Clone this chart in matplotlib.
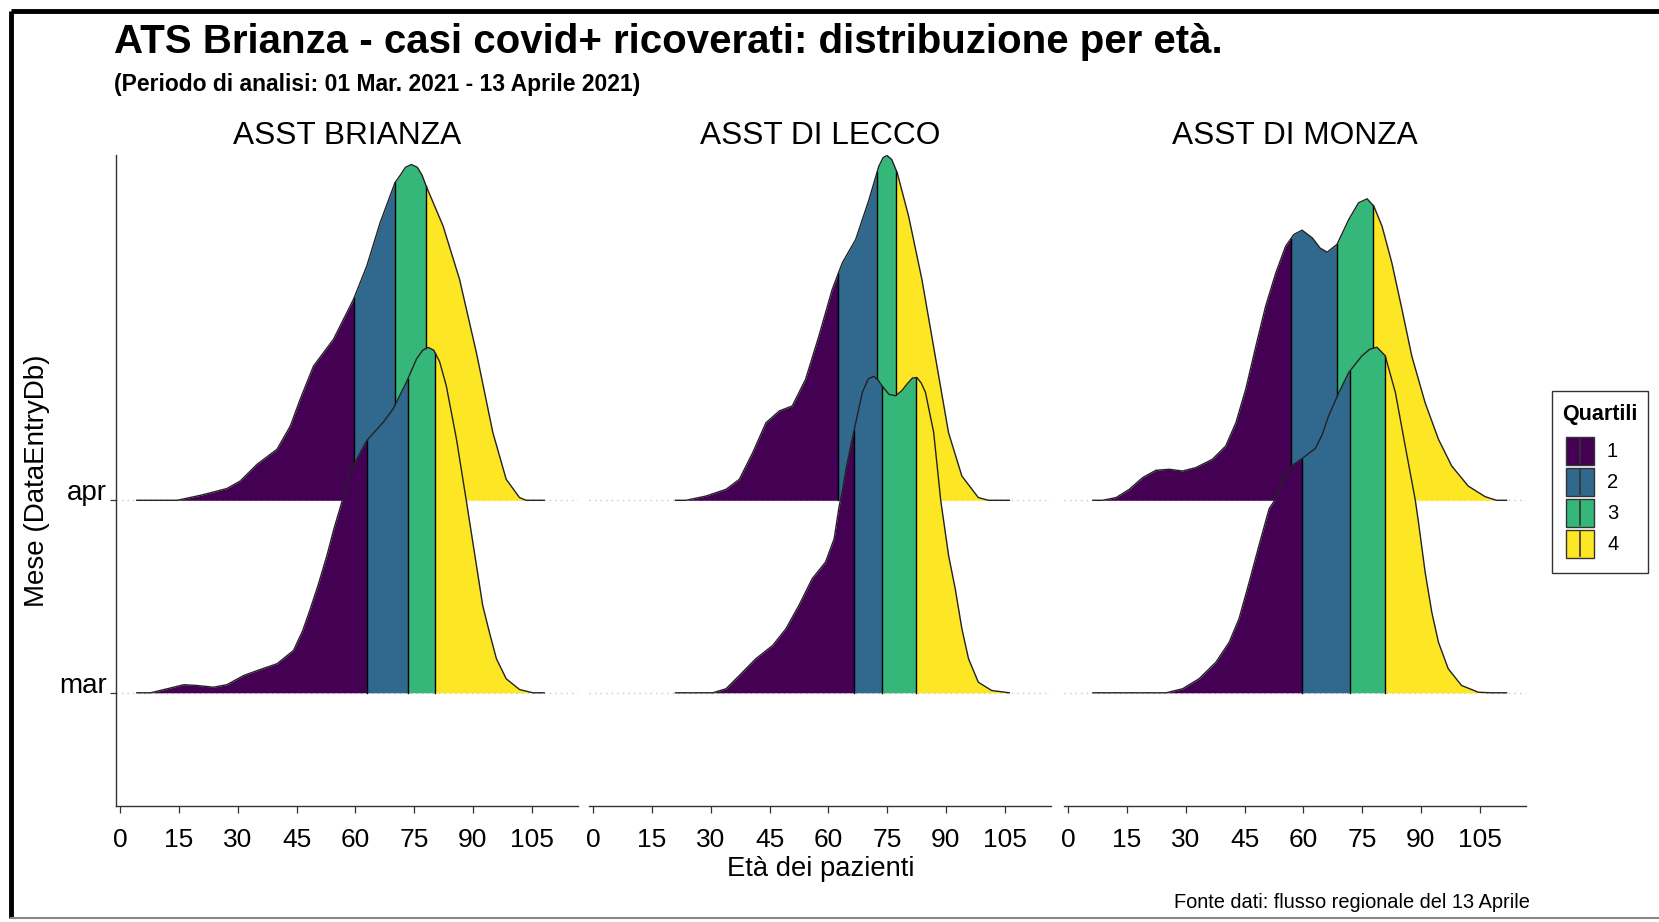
import numpy as np
import matplotlib
matplotlib.use("Agg")
import matplotlib.pyplot as plt
from matplotlib.patches import Rectangle

plt.rcParams['font.family'] = ['Liberation Sans', 'DejaVu Sans']

# ---- data (age, ridge height in row units) ----
panels = ["ASST BRIANZA", "ASST DI LECCO", "ASST DI MONZA"]
months = ["mar", "apr"]
quartile_labels = ["1", "2", "3", "4"]
quartile_colors = ["#440154", "#31688E", "#35B779", "#FDE725"]
x_ticks = [0, 15, 30, 45, 60, 75, 90, 105]

brianza_apr_age = [4.2, 14.5, 20.5, 27.2, 30.6, 34.9, 40.0, 43.4, 45.9, 49.3, 54.4, 59.5, 62.9, 66.3,
                   70.1, 71.5, 72.8, 74.3, 75.8, 77.0, 78.1, 82.4, 86.6, 90.9, 95.1, 98.5, 101.9, 103.6, 108.2]
brianza_apr_h = [0, 0, 0.026, 0.061, 0.10, 0.187, 0.265, 0.386, 0.524, 0.697, 0.836, 1.043, 1.216, 1.441,
                 1.649, 1.69, 1.73, 1.744, 1.73, 1.69, 1.631, 1.424, 1.147, 0.766, 0.351, 0.109, 0.014, 0, 0]
brianza_mar_age = [4.2, 7.7, 12.0, 16.2, 19.6, 23.8, 27.2, 31.5, 35.7, 40.0, 44.2, 46.5, 48.4, 50.5, 52.7,
                   54.5, 56.3, 58.6, 62.9, 67.1, 69.6, 73.0, 75.6, 77.2, 78.6, 80.0, 81.5, 83.2, 85.8,
                   88.3, 90.9, 92.5, 94.2, 96.0, 98.5, 101.9, 105.3, 108.2]
brianza_mar_h = [0, 0, 0.021, 0.042, 0.038, 0.029, 0.042, 0.09, 0.121, 0.151, 0.22, 0.32, 0.43, 0.56, 0.71,
                 0.85, 0.974, 1.147, 1.31, 1.405, 1.474, 1.612, 1.734, 1.78, 1.794, 1.78, 1.72, 1.595, 1.318,
                 1.0, 0.662, 0.454, 0.315, 0.177, 0.073, 0.017, 0, 0]

lecco_apr_age = [21.0, 23.7, 28.8, 33.9, 37.3, 40.7, 44.1, 47.5, 50.8, 54.2, 57.6, 61.0, 63.6, 67.0, 70.4,
                 72.9, 74.0, 75.0, 76.2, 77.6, 80.5, 83.9, 87.3, 90.7, 94.1, 98.3, 100.9, 106.2]
lecco_apr_h = [0, 0, 0.022, 0.057, 0.109, 0.247, 0.403, 0.464, 0.49, 0.628, 0.853, 1.095, 1.234, 1.355, 1.562,
               1.735, 1.78, 1.791, 1.77, 1.701, 1.476, 1.147, 0.749, 0.351, 0.126, 0.014, 0, 0]
lecco_mar_age = [21.0, 30.5, 33.9, 37.3, 41.5, 45.8, 49.2, 52.5, 55.9, 59.3, 61.5, 62.7, 63.6, 64.6, 66.1,
                 68.7, 70.2, 71.6, 72.7, 73.7, 75.5, 77.2, 78.8, 80.1, 81.5, 82.6, 83.7, 84.8, 86.9, 88.7,
                 90.7, 92.4, 94.1, 95.8, 98.3, 101.7, 106.2]
lecco_mar_h = [0, 0, 0.021, 0.09, 0.177, 0.246, 0.333, 0.454, 0.593, 0.679, 0.80, 0.96, 1.05, 1.17, 1.318,
               1.561, 1.63, 1.644, 1.625, 1.595, 1.55, 1.543, 1.57, 1.604, 1.635, 1.638, 1.61, 1.561, 1.353, 1.0,
               0.714, 0.541, 0.333, 0.177, 0.055, 0.012, 0]

monza_apr_age = [6.3, 8.8, 12.2, 15.6, 19.0, 22.4, 25.8, 29.2, 32.6, 36.8, 40.2, 42.8, 45.3, 47.9, 50.4,
                 53.0, 55.5, 57.6, 59.7, 62.3, 64.3, 66.1, 68.6, 71.6, 74.1, 76.3, 78.0, 80.1, 82.6, 85.2,
                 87.7, 91.1, 94.5, 97.9, 102.1, 106.4, 109.3, 111.9]
monza_apr_h = [0, 0, 0.014, 0.057, 0.118, 0.156, 0.161, 0.152, 0.170, 0.213, 0.282, 0.403, 0.576, 0.801, 1.009,
               1.182, 1.32, 1.381, 1.403, 1.363, 1.31, 1.289, 1.329, 1.458, 1.545, 1.566, 1.528, 1.424, 1.234,
               0.991, 0.749, 0.507, 0.317, 0.178, 0.074, 0.019, 0, 0]
monza_mar_age = [6.3, 25.0, 29.2, 33.4, 37.7, 41.1, 43.6, 46.2, 48.7, 51.3, 53.0, 54.6, 57.2, 59.7, 63.1,
                 64.8, 66.5, 69.1, 71.6, 75.0, 77.0, 78.8, 80.9, 83.5, 86.0, 88.6, 89.4, 91.1, 92.8, 94.5,
                 97.0, 100.4, 104.7, 108.0, 111.9]
monza_mar_h = [0, 0, 0.021, 0.073, 0.159, 0.263, 0.385, 0.575, 0.766, 0.957, 1.009, 1.113, 1.182, 1.217, 1.27,
               1.34, 1.44, 1.56, 1.664, 1.751, 1.785, 1.795, 1.751, 1.561, 1.284, 1.0, 0.887, 0.627, 0.419,
               0.263, 0.125, 0.038, 0.003, 0, 0]

# quartile cut points (Q1, median, Q3)
brianza_apr_q = [59.7, 70.2, 78.1]
brianza_mar_q = [62.9, 73.4, 80.4]
lecco_apr_q = [62.6, 72.5, 77.4]
lecco_mar_q = [66.6, 73.7, 82.4]
monza_apr_q = [56.8, 68.7, 77.8]
monza_mar_q = [59.6, 71.9, 80.9]

ridges = {
    "ASST BRIANZA": {"apr": (brianza_apr_age, brianza_apr_h, brianza_apr_q),
                     "mar": (brianza_mar_age, brianza_mar_h, brianza_mar_q)},
    "ASST DI LECCO": {"apr": (lecco_apr_age, lecco_apr_h, lecco_apr_q),
                      "mar": (lecco_mar_age, lecco_mar_h, lecco_mar_q)},
    "ASST DI MONZA": {"apr": (monza_apr_age, monza_apr_h, monza_apr_q),
                      "mar": (monza_mar_age, monza_mar_h, monza_mar_q)},
}

W, H = 1659, 922
fig = plt.figure(figsize=(W / 100, H / 100), dpi=100)
fig.patch.set_facecolor("white")


def draw_ridge(ax, base, age, h, q, z):
    age = np.asarray(age, float)
    h = np.asarray(h, float)
    cuts = [age[0]] + list(q) + [age[-1]]
    for k in range(4):
        lo, hi = cuts[k], cuts[k + 1]
        xs = np.concatenate(([lo], age[(age > lo) & (age < hi)], [hi]))
        ys = np.interp(xs, age, h)
        ax.fill_between(xs, base, base + ys, color=quartile_colors[k], lw=0, zorder=z)
    for c in q:
        ax.plot([c, c], [base, base + np.interp(c, age, h)], color="black", lw=1.0, zorder=z + 0.1)
    ax.plot(age, base + h, color="#222222", lw=1.0, zorder=z + 0.2)


# panel geometry (pixels)
panel_left = [116.4, 589.3, 1064.3]
panel_w = 461.5
panel_top, panel_bot = 155.5, 806.0

for i, name in enumerate(panels):
    ax = fig.add_axes([panel_left[i] / W, 1 - panel_bot / H, panel_w / W, (panel_bot - panel_top) / H])
    ax.set_xlim(-1.0, 116.8)
    ax.set_ylim(0.412, 3.791)
    for yy in (1, 2):
        ax.axhline(yy, color="#c8c8c8", lw=1.0, ls=(0, (1, 3)), zorder=0)
    # apr first, mar drawn on top
    for m, z in (("apr", 2), ("mar", 4)):
        age, h, q = ridges[name][m]
        draw_ridge(ax, months.index(m) + 1, age, h, q, z)

    for s in ("top", "right"):
        ax.spines[s].set_visible(False)
    ax.spines["bottom"].set_color("#333333")
    ax.spines["bottom"].set_linewidth(1.0)
    ax.set_xticks(x_ticks)
    ax.set_xticklabels([str(t) for t in x_ticks])
    ax.tick_params(axis="x", length=5, width=0.9, color="#333333", labelsize=19, pad=11,
                   labelcolor="black")
    if i == 0:
        ax.spines["left"].set_color("#333333")
        ax.spines["left"].set_linewidth(1.0)
        ax.set_yticks([1, 2])
        ax.set_yticklabels(months)
        ax.tick_params(axis="y", length=4, width=0.9, color="#333333", labelsize=20, pad=3)
        for lab in ax.get_yticklabels():
            lab.set_verticalalignment("baseline")
    else:
        ax.spines["left"].set_visible(False)
        ax.set_yticks([])
    ax.set_title(name, fontsize=22.8, pad=0, y=1 + (panel_top - 136) / (panel_bot - panel_top),
                 va="center")

# overlay in pixel coordinates for texts, legend and frame
ov = fig.add_axes([0, 0, 1, 1], zorder=10)
ov.set_xlim(0, W)
ov.set_ylim(H, 0)
ov.axis("off")
ov.patch.set_alpha(0)

ov.text(114, 42, "ATS Brianza - casi covid+ ricoverati: distribuzione per età.", fontsize=29,
        fontweight="bold", va="center", ha="left")
ov.text(114, 84, "(Periodo di analisi: 01 Mar. 2021 - 13 Aprile 2021)", fontsize=16.5,
        fontweight="bold", va="center", ha="left")
ov.text(821, 869, "Età dei pazienti", fontsize=19.7, va="center", ha="center")
ov.text(37, 481, "Mese (DataEntryDb)", fontsize=20, va="center", ha="center", rotation=90)
ov.text(1530, 902, "Fonte dati: flusso regionale del 13 Aprile", fontsize=14.4, va="center", ha="right")

# legend
ov.add_patch(Rectangle((1552, 391), 96, 182, fill=False, ec="#333333", lw=1.0))
ov.text(1600, 414, "Quartili", fontsize=15.5, fontweight="bold", va="center", ha="center")
key_top = [437, 468, 499, 530]
for k, lab in enumerate(quartile_labels):
    y0 = key_top[k]
    ov.add_patch(Rectangle((1566, y0), 28, 28, fc=quartile_colors[k], ec="#333333", lw=1.0))
    ov.plot([1580, 1580], [y0 + 2, y0 + 26], color="#333333", lw=1.2)
    ov.text(1607, y0 + 14, lab, fontsize=14.5, va="center", ha="left")

# screenshot frame
ov.plot([11, 11], [11, 918], color="black", lw=3.5, solid_capstyle="butt")
ov.plot([11, W], [11, 11], color="black", lw=3.5, solid_capstyle="butt")
ov.plot([11, W], [918, 918], color="#888888", lw=1.5)

fig.savefig("out.png", dpi=100)
